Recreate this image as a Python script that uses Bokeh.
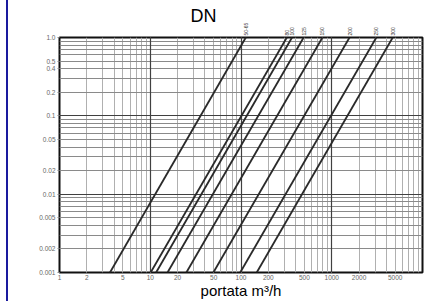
from bokeh.plotting import figure
from bokeh.models import (Range1d, FixedTicker, ColumnDataSource, Grid, LogAxis)
from bokeh.embed import file_html
from bokeh.resources import INLINE

# ---- data ----
dn_labels = ["50-65", "80", "100", "125", "150", "200", "250", "300"]
flow_at_1bar = [113, 320, 365, 490, 790, 1570, 3100, 4700]          # m3/h where line meets 1.0
flow_at_0001bar = [3.6, 10.1, 11.6, 15.5, 25, 49.6, 98, 149]       # m3/h where line meets 0.001
dp_bottom = [0.001] * len(dn_labels)
dp_top = [1.0] * len(dn_labels)

y_tick_values = [1.0, 0.5, 0.4, 0.2, 0.1, 0.05, 0.02, 0.01, 0.005, 0.002, 0.001]
y_tick_labels = ["1.0", "0.5", "0.4", "0.2", "0.1", "0.05", "0.02", "0.01", "0.005", "0.002", "0.001"]
x_tick_values = [1, 2, 5, 10, 20, 50, 100, 200, 500, 1000, 2000, 5000]
x_tick_labels = ["1", "2", "5", "10", "20", "50", "100", "200", "500", "1000", "2000", "5000"]

x_decades = [1, 10, 100, 1000, 10000]
y_decades = [0.001, 0.01, 0.1, 1.0]
x_all_lines = [m * d for d in [1, 10, 100, 1000] for m in range(1, 10)] + [10000]
y_all_lines = [m * d for d in [0.001, 0.01, 0.1] for m in range(1, 10)] + [1.0]

FONT = "Liberation Sans"

p = figure(width=444, height=301, x_axis_type="log", y_axis_type="log",
           x_range=Range1d(1, 10000), y_range=Range1d(0.001, 1.0),
           output_backend="svg", toolbar_location=None,
           min_border_left=59, min_border_right=22, min_border_top=37, min_border_bottom=29)
p.border_fill_color = None
p.background_fill_color = "white"
p.styles = {"background": "linear-gradient(to right, white 6px, #1a1a9e 6px, #1a1a9e 8px, white 8px)"}

p.title.text = "DN"
p.title.align = "left"
p.title.offset = 131
p.title.text_font = FONT
p.title.text_font_size = "18px"
p.title.text_font_style = "normal"
p.title.text_color = "#000000"
p.title.standoff = -12

p.xgrid.visible = False
p.ygrid.visible = False
p.add_layout(Grid(dimension=0, ticker=FixedTicker(ticks=x_all_lines), grid_line_color="#b0b0b0", grid_line_width=1))
p.add_layout(Grid(dimension=1, ticker=FixedTicker(ticks=y_all_lines), grid_line_color="#8a8a8a", grid_line_width=1))
p.add_layout(Grid(dimension=0, ticker=FixedTicker(ticks=x_decades), grid_line_color="#404040", grid_line_width=1.2))
p.add_layout(Grid(dimension=1, ticker=FixedTicker(ticks=y_decades), grid_line_color="#404040", grid_line_width=1.2))

p.outline_line_color = "#111111"
p.outline_line_width = 2
p.outline_line_alpha = 1

for ax, vals, labs in [(p.xaxis[0], x_tick_values, x_tick_labels), (p.yaxis[0], y_tick_values, y_tick_labels)]:
    ax.ticker = FixedTicker(ticks=vals)
    ax.major_label_overrides = {v: l for v, l in zip(vals, labs)}
    ax.major_label_text_font = FONT
    ax.major_label_text_font_size = "6.5px"
    ax.major_label_text_color = "#666666"
    ax.axis_line_color = None
    ax.major_tick_line_color = "#888888"
    ax.major_tick_out = 2
    ax.major_tick_in = 0
    ax.minor_tick_line_color = None
    ax.minor_tick_out = 0
    ax.major_label_standoff = 2

p.xaxis[0].major_tick_out = 1
p.xaxis[0].major_label_standoff = 1
p.xaxis[0].axis_label = "portata m³/h"
p.xaxis[0].axis_label_text_font = FONT
p.xaxis[0].axis_label_text_font_size = "15px"
p.xaxis[0].axis_label_text_font_style = "normal"
p.xaxis[0].axis_label_text_color = "#000000"
p.xaxis[0].axis_label_standoff = -1

# DN labels written above the top end of each line
top_axis = LogAxis(ticker=FixedTicker(ticks=flow_at_1bar),
                   major_label_overrides={q: d for q, d in zip(flow_at_1bar, dn_labels)},
                   major_label_orientation="vertical",
                   major_label_text_font=FONT, major_label_text_font_size="5px",
                   major_label_text_color="#333333", major_label_standoff=2,
                   major_tick_out=0, major_tick_in=0, minor_tick_out=0, minor_tick_in=0,
                   axis_line_color=None, major_tick_line_color=None, minor_tick_line_color=None)
p.add_layout(top_axis, "above")

src = ColumnDataSource(dict(dn=dn_labels, q_hi=flow_at_1bar, q_lo=flow_at_0001bar,
                            y_lo=dp_bottom, y_hi=dp_top))
p.segment(x0="q_lo", y0="y_lo", x1="q_hi", y1="y_hi", source=src,
          line_color="#2a2a2a", line_width=1.8)

open("out.html", "w").write(file_html(p, INLINE))
